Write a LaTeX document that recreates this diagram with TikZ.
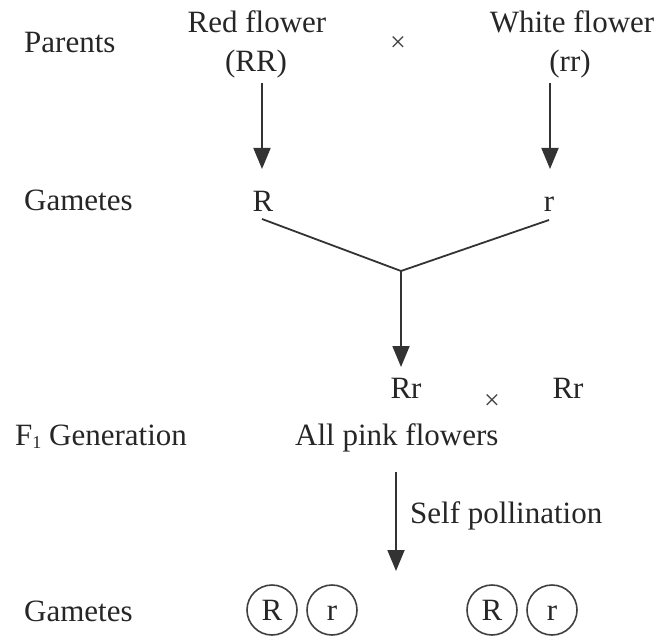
\documentclass[tikz,border=0pt]{standalone}
\usepackage{fontspec}
\setmainfont{Liberation Serif}
\usetikzlibrary{arrows.meta}
\begin{document}
\begin{tikzpicture}[x=1pt,y=-1pt,
  lbl/.style={inner sep=0pt,font=\fontsize{31}{36}\selectfont,text=black!85},
  crs/.style={inner sep=0pt,font=\fontsize{28}{30}\selectfont,text=black!75},
  arr/.style={line width=1.8pt,draw=black!80,-{Triangle[length=21pt,width=17pt]}},
  ln/.style={line width=1.8pt,draw=black!80},
  gam/.style={circle,draw=black!75,line width=1.6pt,minimum size=50pt,inner sep=0pt,font=\fontsize{31}{36}\selectfont,text=black!85}]
\useasboundingbox (0,0) rectangle (658,636);
% row labels
\node[lbl,anchor=base west] (parents) at (24,53) {Parents};
\node[lbl,anchor=base west] (gam1) at (24,211) {Gametes};
\node[lbl,anchor=base west] (f1) at (15,445) {F\raisebox{-0.25ex}{\fontsize{18}{18}\selectfont 1} Generation};
\node[lbl,anchor=base west] (gam2) at (24,621) {Gametes};
% parents
\node[lbl,anchor=base] (red) at (257,33) {Red flower};
\node[lbl,anchor=base] (RR) at (256,72) {(RR)};
\node[crs] (x1) at (398,44) {×};
\node[lbl,anchor=base] (white) at (572,33) {White flower};
\node[lbl,anchor=base] (rr) at (570,72) {(rr)};
% gametes
\node[lbl,anchor=base] (gR) at (263,212) {R};
\node[lbl,anchor=base] (gr) at (549,212) {r};
\coordinate (a1s) at (262,83);
\coordinate (a1e) at (262,169);
\coordinate (a2s) at (550,83);
\coordinate (a2e) at (550,169);
\draw[arr] (a1s) -- (a1e);
\draw[arr] (a2s) -- (a2e);
% join
\coordinate (vl) at (262,219);
\coordinate (vr) at (549,220);
\coordinate (vx) at (401,271);
\coordinate (vd) at (401,367);
\draw[ln] (vl) -- (vx) -- (vr);
\draw[arr] (vx) -- (vd);
% F1
\node[lbl,anchor=base] (Rr1) at (406,398) {Rr};
\node[crs] (x2) at (492,402) {×};
\node[lbl,anchor=base] (Rr2) at (568,398) {Rr};
\node[lbl,anchor=base west] (pink) at (295,445) {All pink flowers};
\coordinate (sps) at (396,472);
\coordinate (spe) at (396,571);
\draw[arr] (sps) -- (spe);
\node[lbl,anchor=base west] (self) at (410,523) {Self pollination};
% gametes F1
\node[gam] (c1) at (272,610) {R};
\node[gam] (c2) at (332,610) {\vphantom{R}r};
\node[gam] (c3) at (492,610) {R};
\node[gam] (c4) at (552,610) {\vphantom{R}r};
\end{tikzpicture}
\end{document}
